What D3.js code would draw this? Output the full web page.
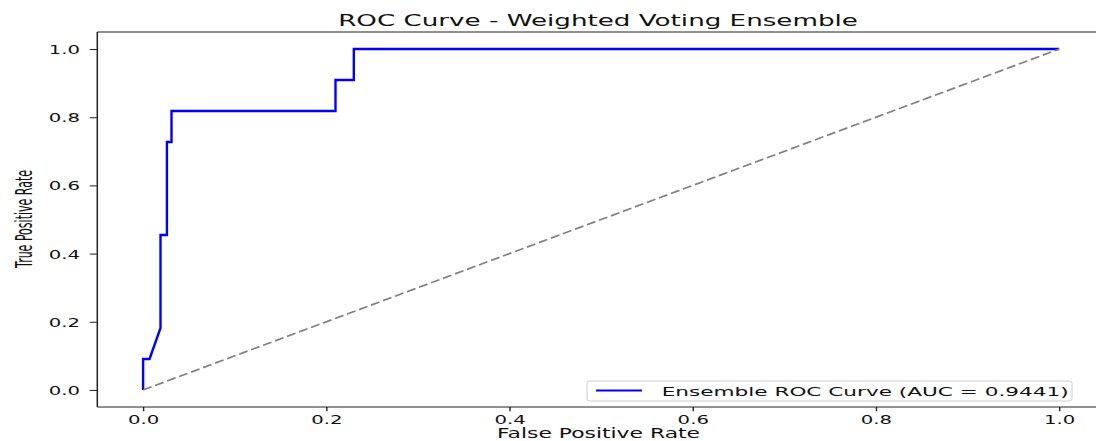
<!DOCTYPE html>
<html><head><meta charset="utf-8">
<script src="https://cdn.jsdelivr.net/npm/d3@7"></script>
<style>html,body{margin:0;padding:0;background:#fff;overflow:hidden}</style>
</head><body><svg id="c" width="1096" height="441"></svg>
<script>
// ---- data ----
const fpr = [0, 0, 0.007, 0.019, 0.019, 0.026, 0.026, 0.031, 0.031, 0.210, 0.210, 0.230, 0.230, 1.0];
const tpr = [0, 0.0909, 0.0909, 0.1818, 0.4545, 0.4545, 0.7273, 0.7273, 0.8182, 0.8182, 0.9091, 0.9091, 1.0, 1.0];
const chanceX = [0, 1];
const chanceY = [0, 1];
const xTicks = [0, 0.2, 0.4, 0.6, 0.8, 1.0];
const yTicks = [0, 0.2, 0.4, 0.6, 0.8, 1.0];
const titleText = "ROC Curve - Weighted Voting Ensemble";
const xLabelText = "False Positive Rate";
const yLabelText = "True Positive Rate";
const legendLabel = "Ensemble ROC Curve (AUC = 0.9441)";

// ---- layout ----
const W = 1096, H = 441;
const L = 97.3, R = 1105, T = 32, B = 407;
const SX = 1.6; // horizontal glyph stretch of the reference
const FONT = "DejaVu Sans, Verdana, sans-serif";

const svg = d3.select("#c");
const x = d3.scaleLinear([-0.05, 1.05], [L, R]);
const y = d3.scaleLinear([-0.05, 1.05], [B, T]);

svg.append("defs").append("clipPath").attr("id", "clip")
  .append("rect").attr("x", L).attr("y", T).attr("width", R - L).attr("height", B - T);

const plot = svg.append("g").attr("clip-path", "url(#clip)");

const rocPts = fpr.map((d, i) => [d, tpr[i]]);
const chancePts = chanceX.map((d, i) => [d, chanceY[i]]);
const line = d3.line().x(d => x(d[0])).y(d => y(d[1]));

plot.append("path").datum(rocPts).attr("d", line)
  .attr("fill", "none").attr("stroke", "#0000ff").attr("stroke-width", 2.4)
  .attr("stroke-linejoin", "miter");
plot.append("path").datum(chancePts).attr("d", line)
  .attr("fill", "none").attr("stroke", "#808080").attr("stroke-width", 1.7)
  .attr("stroke-dasharray", "9,3.8");

// axes
const gx = svg.append("g").attr("transform", `translate(0,${B})`)
  .call(d3.axisBottom(x).tickValues(xTicks).tickFormat(d3.format(".1f")).tickSize(4.2).tickSizeOuter(0));
gx.select(".domain").remove();
gx.selectAll(".tick line").attr("stroke", "#222").attr("stroke-width", 1.4);
gx.selectAll(".tick text").attr("y", null).attr("dy", null)
  .attr("transform", `translate(0,16.6) scale(${SX},1)`)
  .attr("font-family", FONT).attr("font-size", 12.3).attr("fill", "#111");

const gy = svg.append("g").attr("transform", `translate(${L},0)`)
  .call(d3.axisLeft(y).tickValues(yTicks).tickFormat(d3.format(".1f")).tickSize(7.5).tickSizeOuter(0));
gy.select(".domain").remove();
gy.selectAll(".tick line").attr("stroke", "#222").attr("stroke-width", 1);
gy.selectAll(".tick text").attr("x", null).attr("dy", "0.36em")
  .attr("transform", `translate(-17.3,0) scale(${SX},1)`)
  .attr("font-family", FONT).attr("font-size", 12.3).attr("fill", "#111");

// spines
svg.append("line").attr("x1", L).attr("x2", L).attr("y1", T).attr("y2", B).attr("stroke", "#222").attr("stroke-width", 1.5);
svg.append("line").attr("x1", L).attr("x2", R).attr("y1", B).attr("y2", B).attr("stroke", "#222").attr("stroke-width", 1.1);
svg.append("line").attr("x1", L).attr("x2", R).attr("y1", T).attr("y2", T).attr("stroke", "#222").attr("stroke-width", 1.1);
svg.append("line").attr("x1", R).attr("x2", R).attr("y1", T).attr("y2", B).attr("stroke", "#222").attr("stroke-width", 1.5);

// helper: text stretched to a target width
function fitText(str, cx, cy, size, target, anchor) {
  const t = svg.append("text").text(str).attr("font-family", FONT).attr("font-size", size)
    .attr("fill", "#111").attr("text-anchor", anchor);
  const nat = t.node().getComputedTextLength();
  t.attr("transform", `translate(${cx},${cy}) scale(${target / nat},1)`);
  return t;
}

fitText(titleText, 598, 26, 16.5, 520, "middle");
fitText(xLabelText, 598.5, 438, 13.2, 203, "middle");

// y label
{
  const t = svg.append("text").text(yLabelText).attr("font-family", FONT).attr("font-size", 14.3)
    .attr("fill", "#111").attr("text-anchor", "middle");
  const nat = t.node().getComputedTextLength();
  t.attr("transform", `translate(31.5,219) scale(${SX},${98 / nat}) rotate(-90)`);
}

// legend
const lg = svg.append("g");
lg.append("rect").attr("x", 587).attr("y", 381).attr("width", 485).attr("height", 20).attr("rx", 2.5)
  .attr("fill", "#fff").attr("fill-opacity", 0.8).attr("stroke", "#cccccc").attr("stroke-width", 1);
lg.append("line").attr("x1", 596).attr("x2", 642).attr("y1", 390.5).attr("y2", 390.5)
  .attr("stroke", "#0000ff").attr("stroke-width", 2);
fitText(legendLabel, 661.7, 395.7, 12.3, 407, "start");
</script></body></html>
